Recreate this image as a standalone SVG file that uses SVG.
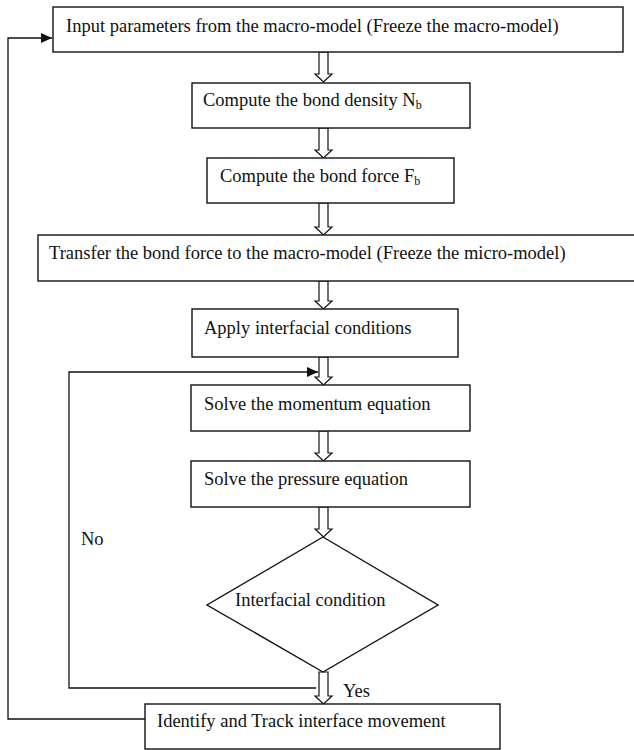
<svg xmlns="http://www.w3.org/2000/svg" width="634" height="750" viewBox="0 0 634 750">
<style>
.box{fill:#fff;stroke:#111;stroke-width:1.4}
.ln{fill:none;stroke:#111;stroke-width:1.3}
.ha{fill:#fff;stroke:#111;stroke-width:1.2;stroke-linejoin:miter}
text{font-family:"Liberation Serif","Times New Roman",serif;font-size:18.5px;fill:#111}
.sub{font-size:12px}
</style>
<defs>
<marker id="ah" markerWidth="12" markerHeight="10" refX="11" refY="5" orient="auto" markerUnits="userSpaceOnUse">
<path d="M0,0 L11,5 L0,10 Z" fill="#111"/>
</marker>
</defs>
<rect width="634" height="750" fill="#fff"/>
<g id="connectors">
<polyline class="ln" points="145,719 8,719 8,38 52,38" marker-end="url(#ah)"/>
<polyline class="ln" points="316,688 69,688 69,372 318,372" marker-end="url(#ah)"/>
<path class="ha" d="M319,52 V74 H315 L323.5,82 L332,74 H328 V52 Z"/>
<path class="ha" d="M319,128 V150 H315 L323.5,158 L332,150 H328 V128 Z"/>
<path class="ha" d="M319,203 V227 H315 L323.5,235 L332,227 H328 V203 Z"/>
<path class="ha" d="M319,281 V301 H315 L323.5,309 L332,301 H328 V281 Z"/>
<path class="ha" d="M319,357 V377 H315 L323.5,385 L332,377 H328 V357 Z"/>
<path class="ha" d="M319,431 V453 H315 L323.5,461 L332,453 H328 V431 Z"/>
<path class="ha" d="M319,507 V529 H315 L323.5,537 L332,529 H328 V507 Z"/>
<path class="ha" d="M319,672 V696 H315 L323.5,704 L332,696 H328 V672 Z"/>
<text x="81" y="545">No</text>
<text x="343" y="697">Yes</text>
</g>
<g id="n1"><rect class="box" x="53" y="7" width="570" height="45"/><text x="66" y="32">Input parameters from the macro-model (Freeze the macro-model)</text></g>
<g id="n2"><rect class="box" x="192" y="83" width="278" height="45"/><text x="203" y="106">Compute the bond density N<tspan class="sub" dy="3">b</tspan></text></g>
<g id="n3"><rect class="box" x="207" y="158" width="247" height="45"/><text x="220" y="182">Compute the bond force F<tspan class="sub" dy="3">b</tspan></text></g>
<g id="n4"><rect class="box" x="38" y="235" width="610" height="46"/><text x="49" y="259">Transfer the bond force to the macro-model (Freeze the micro-model)</text></g>
<g id="n5"><rect class="box" x="192" y="309" width="266" height="48"/><text x="204" y="334">Apply interfacial conditions</text></g>
<g id="n6"><rect class="box" x="191" y="385" width="279" height="46"/><text x="204" y="410">Solve the momentum equation</text></g>
<g id="n7"><rect class="box" x="191" y="461" width="279" height="46"/><text x="204" y="485">Solve the pressure equation</text></g>
<g id="n8"><polygon class="box" points="323,537 438,605 323,672 207,605"/><text x="235" y="606">Interfacial condition</text></g>
<g id="n9"><rect class="box" x="145" y="704" width="355" height="45"/><text x="157" y="727">Identify and Track interface movement</text></g>
</svg>
